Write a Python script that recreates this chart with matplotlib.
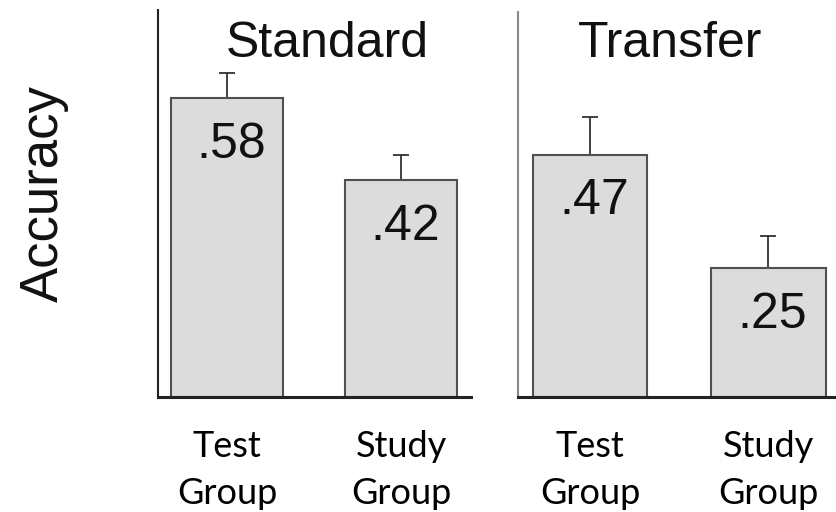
import matplotlib
matplotlib.use("Agg")
import matplotlib.pyplot as plt

# Accuracy by group, two conditions
conditions = ["Standard", "Transfer"]
groups = ["Test\nGroup", "Study\nGroup"]
accuracy = {
    "Standard": [0.58, 0.42],
    "Transfer": [0.47, 0.25],
}
errors = {
    "Standard": [0.049, 0.050],
    "Transfer": [0.073, 0.062],
}
value_labels = {
    "Standard": [".58", ".42"],
    "Transfer": [".47", ".25"],
}

W, H = 836, 512
fig = plt.figure(figsize=(W / 100, H / 100), dpi=100)

# panel geometry in pixels: left, right, top, baseline
panels = {
    "Standard": dict(left=158, right=471, top=10, xlim=(-0.397, 1.402),
                     title_x=0.54, left_color="#222222"),
    "Transfer": dict(left=518, right=836, top=12, xlim=(-0.404, 1.38),
                     title_x=0.478, left_color="#888888"),
}
baseline = 397
px_per_unit = 515.5

title_font = "Liberation Sans"
tick_font = "Lato"

for cond in conditions:
    p = panels[cond]
    ax = fig.add_axes([p["left"] / W, (H - baseline) / H,
                       (p["right"] - p["left"]) / W,
                       (baseline - p["top"]) / H])
    x = [0, 1]
    vals = accuracy[cond]
    errs = errors[cond]
    ax.bar(x, vals, width=0.645, color="#dcdcdc", edgecolor="#505050",
           linewidth=1.5, zorder=2)
    ax.errorbar(x, vals, yerr=[[0, 0], errs], fmt="none", ecolor="#333333",
                elinewidth=1.3, capsize=6, capthick=1.3, zorder=1)
    for xi, v, lab in zip(x, vals, value_labels[cond]):
        ax.annotate(lab, (xi, v), xytext=(3, -17), textcoords="offset points",
                    ha="center", va="top", fontsize=36, family=title_font,
                    color="#111111", zorder=3)
    ax.set_xlim(*p["xlim"])
    ax.set_ylim(0, (baseline - p["top"]) / px_per_unit)
    ax.set_yticks([])
    ax.set_xticks(x)
    ax.set_xticklabels(groups, fontsize=26, family=tick_font,
                       linespacing=1.5)
    ax.tick_params(axis="x", length=0, pad=24)
    for s in ("top", "right"):
        ax.spines[s].set_visible(False)
    ax.spines["left"].set_color(p["left_color"])
    ax.spines["left"].set_linewidth(1.5)
    ax.spines["bottom"].set_color("#222222")
    ax.spines["bottom"].set_linewidth(2.2)
    ax.text(p["title_x"], (baseline - 57) / (baseline - p["top"]), cond,
            transform=ax.transAxes, ha="center", va="baseline",
            fontsize=36, family=title_font, color="#111111")

fig.text(44 / W, (H - 194) / H, "Accuracy", rotation=90, ha="center",
         va="center", fontsize=38, family=title_font, color="#111111")

fig.savefig("out.png", dpi=100)
